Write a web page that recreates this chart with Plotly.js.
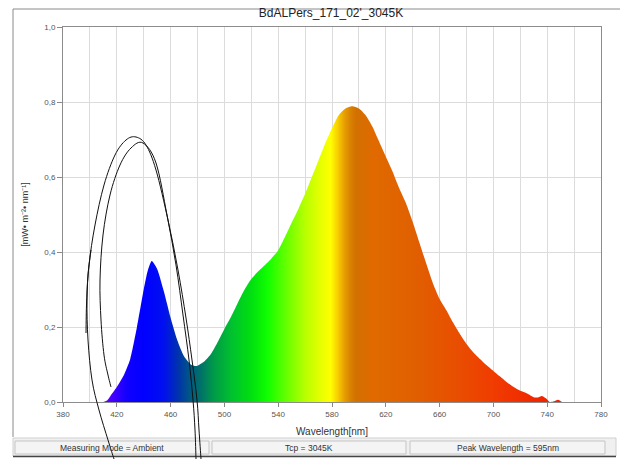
<!DOCTYPE html>
<html>
<head>
<meta charset="utf-8">
<script src="https://cdn.plot.ly/plotly-3.0.1.min.js"></script>
<style>html,body{margin:0;padding:0;background:#fff;}#chart{width:620px;height:459px;}</style>
</head>
<body>
<div id="chart"></div>
<script>
// ---- data ----
const wavelength = [410,413,415,420,425,430,435,440,443,446,450,455,460,465,470,475,478,480,485,490,495,500,505,510,515,520,525,530,535,540,545,550,555,560,565,570,575,580,585,590,595,600,605,610,615,620,625,630,635,640,645,650,655,660,665,670,675,680,685,690,695,700,705,710,715,720,725,730,733,736,739,742,745,748,751];
const irradiance = [0,0.005,0.015,0.04,0.07,0.115,0.2,0.3,0.35,0.376,0.355,0.295,0.225,0.165,0.122,0.1,0.096,0.097,0.108,0.128,0.16,0.195,0.228,0.265,0.3,0.328,0.348,0.365,0.383,0.405,0.44,0.478,0.515,0.555,0.6,0.645,0.69,0.73,0.765,0.783,0.789,0.783,0.765,0.735,0.695,0.655,0.615,0.57,0.53,0.48,0.425,0.37,0.317,0.275,0.245,0.212,0.182,0.155,0.133,0.115,0.098,0.083,0.068,0.053,0.04,0.03,0.023,0.013,0.012,0.016,0.01,0,0.002,0.006,0];

// spectral colours along the wavelength axis
const specNm = [410,418,428,440,455,465,475,482,492,505,520,532,545,560,572,579,584,589,594,598,610,640,670,700,730,751];
const specColor = ['#6a00ff','#4000ff','#1000ff','#0000ff','#0010f0','#0030b0','#005a80','#00706a','#009a48','#00c030','#00e010','#10ff00','#60ff00','#b8ff00','#e8ff00','#ffff00','#f8d000','#e8a000','#d88000','#d27000','#e06a00','#e06000','#e85000','#f03c00','#f02800','#f02000'];

const xTickVals = [380,420,460,500,540,580,620,660,700,740,780];
const yTickVals = [0,0.2,0.4,0.6,0.8,1.0];

const chartTitle = "BdALPers_171_02'_3045K";
const xTitle = 'Wavelength[nm]';
const yTitle = '[mW• m⁻²• nm⁻¹]';
const statusTexts = ['Measuring Mode = Ambient','Tcp = 3045K','Peak Wavelength = 595nm'];

// ---- layout helpers ----
const L = 63, R = 19, T = 27, B = 57, W = 620, H = 459;
const PW = W - L - R, PH = H - T - B;
const fx = px => (px - L) / PW;
const fy = py => (T + PH - py) / PH;

const nmMin = specNm[0], nmMax = specNm[specNm.length - 1];
const colorscale = specNm.map((n, i) => [(n - nmMin) / (nmMax - nmMin), specColor[i]]);

function smoothPath(pts) {
  // Catmull-Rom -> cubic Bezier, in paper coordinates
  const p = pts.map(([x, y]) => [fx(x), fy(y)]);
  let d = 'M ' + p[0][0] + ',' + p[0][1];
  for (let i = 0; i < p.length - 1; i++) {
    const p0 = p[Math.max(i - 1, 0)], p1 = p[i], p2 = p[i + 1], p3 = p[Math.min(i + 2, p.length - 1)];
    const c1 = [p1[0] + (p2[0] - p0[0]) / 6, p1[1] + (p2[1] - p0[1]) / 6];
    const c2 = [p2[0] - (p3[0] - p1[0]) / 6, p2[1] - (p3[1] - p1[1]) / 6];
    d += ' C ' + c1[0] + ',' + c1[1] + ' ' + c2[0] + ',' + c2[1] + ' ' + p2[0] + ',' + p2[1];
  }
  return d;
}

// hand-drawn loops around the blue peak (annotation, pixel positions)
const loopOuter = [[201,459],[199,430],[197,400],[192,360],[186,318],[178,270],[168,220],[156,170],[146,145],[136,137],[126,140],[115,155],[104,185],[95,225],[89,265],[87,300],[88,340],[92,380],[99,410],[108,440],[114,459]];
const loopInner = [[196,459],[195,430],[193,400],[189,360],[183,315],[176,265],[167,215],[156,163],[143,143],[131,148],[120,165],[110,195],[103,235],[100,280],[101,320],[104,355],[108,375],[111,387]];
const loopSpur = [[86,333],[86.5,305],[88,275],[91,250]];

const shapes = [];
// outer window frame
shapes.push({type:'line', xref:'paper', yref:'paper', x0:fx(13), x1:fx(620), y0:fy(9), y1:fy(9), line:{color:'#8a8a8a', width:1}});
shapes.push({type:'line', xref:'paper', yref:'paper', x0:fx(13), x1:fx(13), y0:fy(9), y1:fy(437), line:{color:'#8a8a8a', width:1}});
// status bar
shapes.push({type:'rect', xref:'paper', yref:'paper', x0:fx(13), x1:fx(616), y0:fy(438), y1:fy(456), fillcolor:'#f0f0f0', line:{color:'#d0d0d0', width:1}, layer:'below'});
shapes.push({type:'line', xref:'paper', yref:'paper', x0:fx(13), x1:fx(616), y0:fy(456.5), y1:fy(456.5), line:{color:'#444', width:1.5}});
const cells = [[15,209],[212,406],[410,605]];
cells.forEach(([a, b]) => {
  shapes.push({type:'rect', xref:'paper', yref:'paper', x0:fx(a), x1:fx(b), y0:fy(441), y1:fy(454), fillcolor:'#f4f4f4', line:{color:'#c4c4c4', width:1}});
});
[loopOuter, loopInner, loopSpur].forEach(pts => {
  shapes.push({type:'path', xref:'paper', yref:'paper', path: smoothPath(pts), line:{color:'#111', width:1}});
});

const annotations = statusTexts.map((t, i) => ({
  xref:'paper', yref:'paper', x: fx((cells[i][0] + cells[i][1]) / 2), y: fy(447.5),
  text: t, showarrow:false, xanchor:'center', yanchor:'middle',
  font:{family:'Liberation Sans, Arial, sans-serif', size:8.5, color:'#333'}
}));

const trace = {
  type:'scatter', mode:'lines', x: wavelength, y: irradiance,
  fill:'tozeroy',
  fillgradient:{type:'horizontal', colorscale: colorscale, start: nmMin, stop: nmMax},
  line:{width:0, color:'rgba(0,0,0,0)', shape:'spline', smoothing:0.6},
  hoverinfo:'skip', showlegend:false
};

const layout = {
  width: W, height: H,
  margin: {l:L, r:R, t:T, b:B, pad:0},
  paper_bgcolor:'#ffffff', plot_bgcolor:'#ffffff',
  separators:', ',
  font:{family:'Liberation Sans, Arial, sans-serif', color:'#444'},
  title:{text: chartTitle, x: fx(331), xref:'paper', xanchor:'center', y: 1 - 13/H, yanchor:'middle',
         font:{family:'Liberation Sans, Arial, sans-serif', size:12, color:'#222'}},
  xaxis:{range:[380,780], tickvals:xTickVals, ticktext:xTickVals.map(String),
         showgrid:true, gridcolor:'#dcdcdc', gridwidth:1,
         minor:{dtick:20, tick0:380, showgrid:true, gridcolor:'#dcdcdc', gridwidth:1, ticks:''},
         ticks:'outside', ticklen:4, tickcolor:'#888', showline:true, linecolor:'#8c8c8c', linewidth:1, mirror:true,
         zeroline:false, tickfont:{size:8, color:'#555'},
         title:{text:xTitle, standoff:10, font:{size:10, color:'#333'}}},
  yaxis:{range:[0,1], tickvals:yTickVals, tickformat:'.1f',
         showgrid:true, gridcolor:'#dcdcdc', gridwidth:1,
         ticks:'outside', ticklen:5, tickcolor:'#888', showline:true, linecolor:'#8c8c8c', linewidth:1, mirror:true,
         zeroline:false, tickfont:{size:8, color:'#555'},
         title:{text:yTitle, standoff:14, font:{size:9, color:'#333'}}},
  shapes: shapes,
  annotations: annotations
};

Plotly.newPlot('chart', [trace], layout, {staticPlot:true, displayModeBar:false});
</script>
</body>
</html>
